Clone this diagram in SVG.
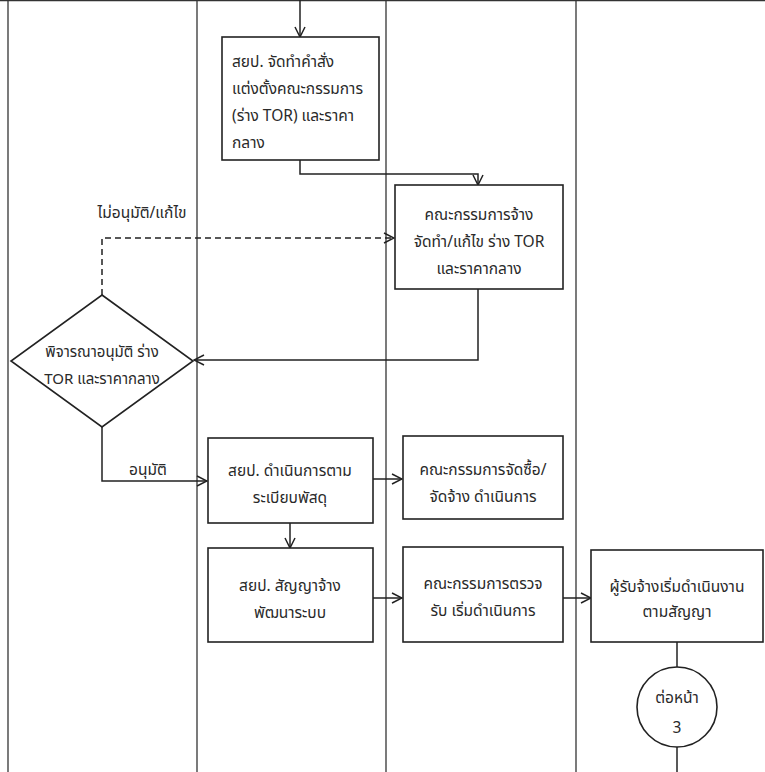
<svg xmlns="http://www.w3.org/2000/svg" width="765" height="772" viewBox="0 0 765 772">
<defs>
<marker id="arr" markerWidth="12" markerHeight="12" refX="11" refY="6" orient="auto" markerUnits="userSpaceOnUse">
<path d="M1,1 L11,6 L1,11" fill="none" stroke="#222" stroke-width="1.5"/>
</marker>
<style>
.lane{stroke:#333;stroke-width:1.3;fill:none}
.box{fill:#fff;stroke:#222;stroke-width:1.6}
.con{fill:none;stroke:#222;stroke-width:1.5}
.dash{fill:none;stroke:#222;stroke-width:1.5;stroke-dasharray:6,4}
text{font-family:"Noto Sans Thai","Noto Sans","DejaVu Sans",sans-serif;font-size:15.5px;fill:#2a2a2a}
.c{text-anchor:middle}
.s{font-size:15px}
</style>
</defs>
<rect width="765" height="772" fill="#fff"/>
<g id="lanes">
<line class="lane" x1="0" y1="0.7" x2="765" y2="0.7"/>
<line class="lane" x1="8" y1="0" x2="8" y2="772"/>
<line class="lane" x1="197" y1="0" x2="197" y2="772"/>
<line class="lane" x1="386" y1="0" x2="386" y2="772"/>
<line class="lane" x1="576" y1="0" x2="576" y2="772"/>
</g>
<g id="connectors">
<path class="con" d="M300,0 V37" marker-end="url(#arr)"/>
<path class="con" d="M300,160 V174 H478 V185" marker-end="url(#arr)"/>
<path class="con" d="M478,289 V360 H194" marker-end="url(#arr)"/>
<path class="dash" d="M102,295 V238 H394" marker-end="url(#arr)"/>
<path class="con" d="M102,427 V481 H207" marker-end="url(#arr)"/>
<path class="con" d="M290,523 V548" marker-end="url(#arr)"/>
<path class="con" d="M373,479 H402" marker-end="url(#arr)"/>
<path class="con" d="M373,598 H402" marker-end="url(#arr)"/>
<path class="con" d="M563,598 H591" marker-end="url(#arr)"/>
<path class="con" d="M677,642 V667"/>
<path class="con" d="M677,747 V772"/>
<text class="c" x="142" y="218">ไม่อนุมัติ/แก้ไข</text>
<text class="c" x="148" y="475">อนุมัติ</text>
</g>
<g id="n1">
<rect class="box" x="222" y="37" width="157" height="123"/>
<text x="232" y="67">สยป. จัดทำคำสั่ง</text>
<text x="232" y="94">แต่งตั้งคณะกรรมการ</text>
<text x="232" y="121">(ร่าง TOR) และราคา</text>
<text x="232" y="148">กลาง</text>
</g>
<g id="n2">
<rect class="box" x="395" y="185" width="168" height="104"/>
<text class="c" x="479" y="220">คณะกรรมการจ้าง</text>
<text class="c" x="479" y="247">จัดทำ/แก้ไข ร่าง TOR</text>
<text class="c" x="479" y="274">และราคากลาง</text>
</g>
<g id="n3">
<polygon class="box" points="102,295 193,361 102,427 11,361"/>
<text class="c s" x="102" y="357">พิจารณาอนุมัติ ร่าง</text>
<text class="c s" x="102" y="384">TOR และราคากลาง</text>
</g>
<g id="n4">
<rect class="box" x="208" y="438" width="165" height="85"/>
<text class="c" x="290" y="476">สยป. ดำเนินการตาม</text>
<text class="c" x="290" y="503">ระเบียบพัสดุ</text>
</g>
<g id="n5">
<rect class="box" x="208" y="548" width="165" height="94"/>
<text class="c" x="290" y="591">สยป. สัญญาจ้าง</text>
<text class="c" x="290" y="618">พัฒนาระบบ</text>
</g>
<g id="n6">
<rect class="box" x="403" y="436" width="160" height="83"/>
<text class="c" x="483" y="475">คณะกรรมการจัดซื้อ/</text>
<text class="c" x="483" y="502">จัดจ้าง ดำเนินการ</text>
</g>
<g id="n7">
<rect class="box" x="403" y="547" width="160" height="95"/>
<text class="c" x="483" y="589">คณะกรรมการตรวจ</text>
<text class="c" x="483" y="616">รับ เริ่มดำเนินการ</text>
</g>
<g id="n8">
<rect class="box" x="591" y="550" width="172" height="92"/>
<text class="c" x="677" y="592">ผู้รับจ้างเริ่มดำเนินงาน</text>
<text class="c" x="677" y="617">ตามสัญญา</text>
</g>
<g id="n9">
<circle class="box" cx="677" cy="707" r="40"/>
<text class="c" x="677" y="703">ต่อหน้า</text>
<text class="c" x="677" y="733">3</text>
</g>
</svg>
